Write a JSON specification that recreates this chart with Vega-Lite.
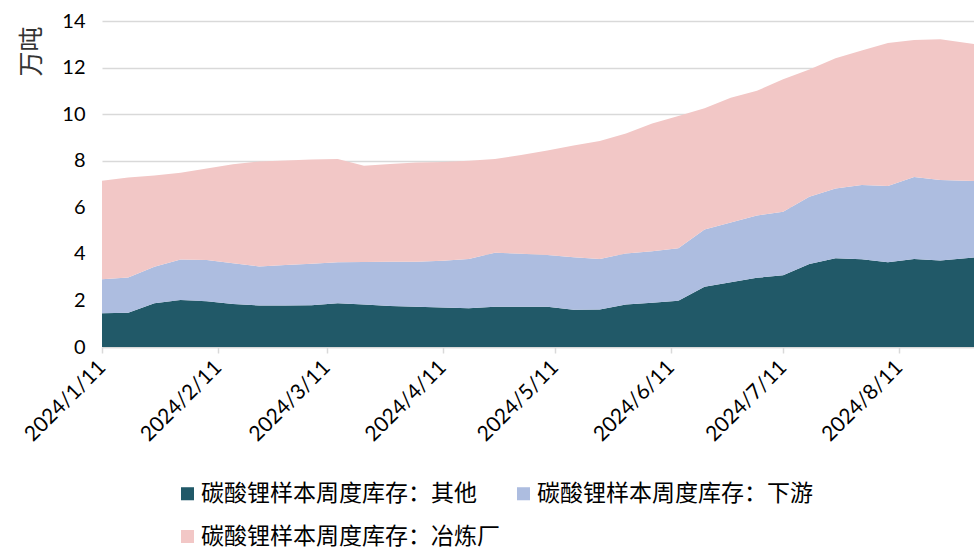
{
  "$schema": "https://vega.github.io/schema/vega-lite/v6.json",
  "width": 872,
  "height": 326,
  "autosize": {"type": "none"},
  "padding": {"left": 102, "top": 21, "right": 0, "bottom": 202},
  "background": "white",
  "config": {
    "view": {"stroke": null},
    "font": "Lato",
    "axis": {"labelFont": "Lato", "titleFont": "Noto Sans CJK SC"}
  },
  "data": {
    "values": [
      {"date": "2024-01-11", "其他": 1.45, "下游": 1.46, "冶炼厂": 4.23},
      {"date": "2024-01-18", "其他": 1.47, "下游": 1.52, "冶炼厂": 4.29},
      {"date": "2024-01-25", "其他": 1.88, "下游": 1.57, "冶炼厂": 3.92},
      {"date": "2024-02-01", "其他": 2.02, "下游": 1.74, "冶炼厂": 3.72},
      {"date": "2024-02-08", "其他": 1.97, "下游": 1.77, "冶炼厂": 3.93},
      {"date": "2024-02-15", "其他": 1.85, "下游": 1.75, "冶炼厂": 4.25},
      {"date": "2024-02-22", "其他": 1.78, "下游": 1.68, "冶炼厂": 4.51},
      {"date": "2024-02-29", "其他": 1.78, "下游": 1.74, "冶炼厂": 4.49},
      {"date": "2024-03-07", "其他": 1.79, "下游": 1.79, "冶炼厂": 4.47},
      {"date": "2024-03-14", "其他": 1.88, "下游": 1.76, "冶炼厂": 4.43},
      {"date": "2024-03-21", "其他": 1.82, "下游": 1.83, "冶炼厂": 4.13},
      {"date": "2024-03-28", "其他": 1.76, "下游": 1.90, "冶炼厂": 4.20},
      {"date": "2024-04-04", "其他": 1.73, "下游": 1.93, "冶炼厂": 4.26},
      {"date": "2024-04-11", "其他": 1.70, "下游": 2.00, "冶炼厂": 4.25},
      {"date": "2024-04-18", "其他": 1.66, "下游": 2.12, "冶炼厂": 4.22},
      {"date": "2024-04-25", "其他": 1.73, "下游": 2.32, "冶炼厂": 4.02},
      {"date": "2024-05-02", "其他": 1.73, "下游": 2.27, "冶炼厂": 4.25},
      {"date": "2024-05-09", "其他": 1.73, "下游": 2.22, "冶炼厂": 4.49},
      {"date": "2024-05-16", "其他": 1.60, "下游": 2.25, "冶炼厂": 4.80},
      {"date": "2024-05-23", "其他": 1.61, "下游": 2.17, "冶炼厂": 5.07},
      {"date": "2024-05-30", "其他": 1.83, "下游": 2.19, "冶炼厂": 5.15},
      {"date": "2024-06-06", "其他": 1.90, "下游": 2.21, "冶炼厂": 5.49},
      {"date": "2024-06-13", "其他": 1.99, "下游": 2.25, "冶炼厂": 5.68},
      {"date": "2024-06-20", "其他": 2.59, "下游": 2.46, "冶炼厂": 5.20},
      {"date": "2024-06-27", "其他": 2.78, "下游": 2.57, "冶炼厂": 5.35},
      {"date": "2024-07-04", "其他": 2.97, "下游": 2.68, "冶炼厂": 5.35},
      {"date": "2024-07-11", "其他": 3.08, "下游": 2.73, "冶炼厂": 5.69},
      {"date": "2024-07-18", "其他": 3.56, "下游": 2.89, "冶炼厂": 5.47},
      {"date": "2024-07-25", "其他": 3.81, "下游": 3.00, "冶炼厂": 5.59},
      {"date": "2024-08-01", "其他": 3.77, "下游": 3.19, "冶炼厂": 5.77},
      {"date": "2024-08-08", "其他": 3.64, "下游": 3.27, "冶炼厂": 6.14},
      {"date": "2024-08-15", "其他": 3.78, "下游": 3.52, "冶炼厂": 5.88},
      {"date": "2024-08-22", "其他": 3.72, "下游": 3.45, "冶炼厂": 6.05},
      {"date": "2024-08-31", "其他": 3.84, "下游": 3.29, "冶炼厂": 5.88}
    ]
  },
  "transform": [
    {"fold": ["其他", "下游", "冶炼厂"], "as": ["series", "value"]},
    {"calculate": "indexof(['其他','下游','冶炼厂'], datum.series)", "as": "rank"}
  ],
  "mark": {"type": "area", "interpolate": "linear", "strokeWidth": 0},
  "encoding": {
    "x": {
      "field": "date",
      "type": "temporal",
      "scale": {"type": "utc", "domain": [{"year": 2024, "month": 1, "date": 11, "utc": true}, {"year": 2024, "month": 8, "date": 31, "utc": true}]},
      "axis": {
        "title": null,
        "values": [
          {"year": 2024, "month": 1, "date": 11, "utc": true},
          {"year": 2024, "month": 2, "date": 11, "utc": true},
          {"year": 2024, "month": 3, "date": 11, "utc": true},
          {"year": 2024, "month": 4, "date": 11, "utc": true},
          {"year": 2024, "month": 5, "date": 11, "utc": true},
          {"year": 2024, "month": 6, "date": 11, "utc": true},
          {"year": 2024, "month": 7, "date": 11, "utc": true},
          {"year": 2024, "month": 8, "date": 11, "utc": true}
        ],
        "labelExpr": "utcFormat(datum.value, '%Y/%-m/%-d')",
        "labelAngle": -45,
        "labelAlign": "right",
        "labelBaseline": "middle",
        "labelFontSize": 21,
        "labelColor": "#000000",
        "labelPadding": 11,
        "labelDx": 5,
        "labelFlush": false,
        "labelOverlap": false,
        "grid": false,
        "domainColor": "#d9d9d9",
        "domainWidth": 1.5,
        "tickColor": "#d9d9d9",
        "tickSize": 6,
        "tickWidth": 1.5
      }
    },
    "y": {
      "field": "value",
      "type": "quantitative",
      "stack": "zero",
      "scale": {"domain": [0, 14], "nice": false},
      "axis": {
        "title": "万吨",
        "titleFontSize": 25,
        "titleFontWeight": "normal",
        "titleColor": "#333333",
        "titleAnchor": "end",
        "titleX": -58,
        "titleY": 5,
        "titleAlign": "right",
        "values": [0, 2, 4, 6, 8, 10, 12, 14],
        "labelFontSize": 20,
        "labelColor": "#000000",
        "labelPadding": 17,
        "domain": false,
        "ticks": false,
        "gridColor": "#d9d9d9",
        "gridWidth": 1.5
      }
    },
    "color": {
      "field": "series",
      "type": "nominal",
      "scale": {"domain": ["其他", "下游", "冶炼厂"], "range": ["#215968", "#adbde0", "#f2c7c6"]},
      "legend": {
        "title": null,
        "orient": "none",
        "legendX": 74,
        "legendY": 461,
        "columns": 2,
        "direction": "horizontal",
        "symbolType": "square",
        "symbolSize": 170,
        "symbolStrokeWidth": 0,
        "labelFont": "Noto Sans CJK SC",
        "labelFontSize": 23,
        "labelColor": "#000000",
        "labelOffset": 2,
        "labelLimit": 400,
        "columnPadding": 12,
        "rowPadding": 19,
        "labelExpr": "'碳酸锂样本周度库存：' + datum.label"
      }
    },
    "order": {"field": "rank", "type": "quantitative"}
  }
}
